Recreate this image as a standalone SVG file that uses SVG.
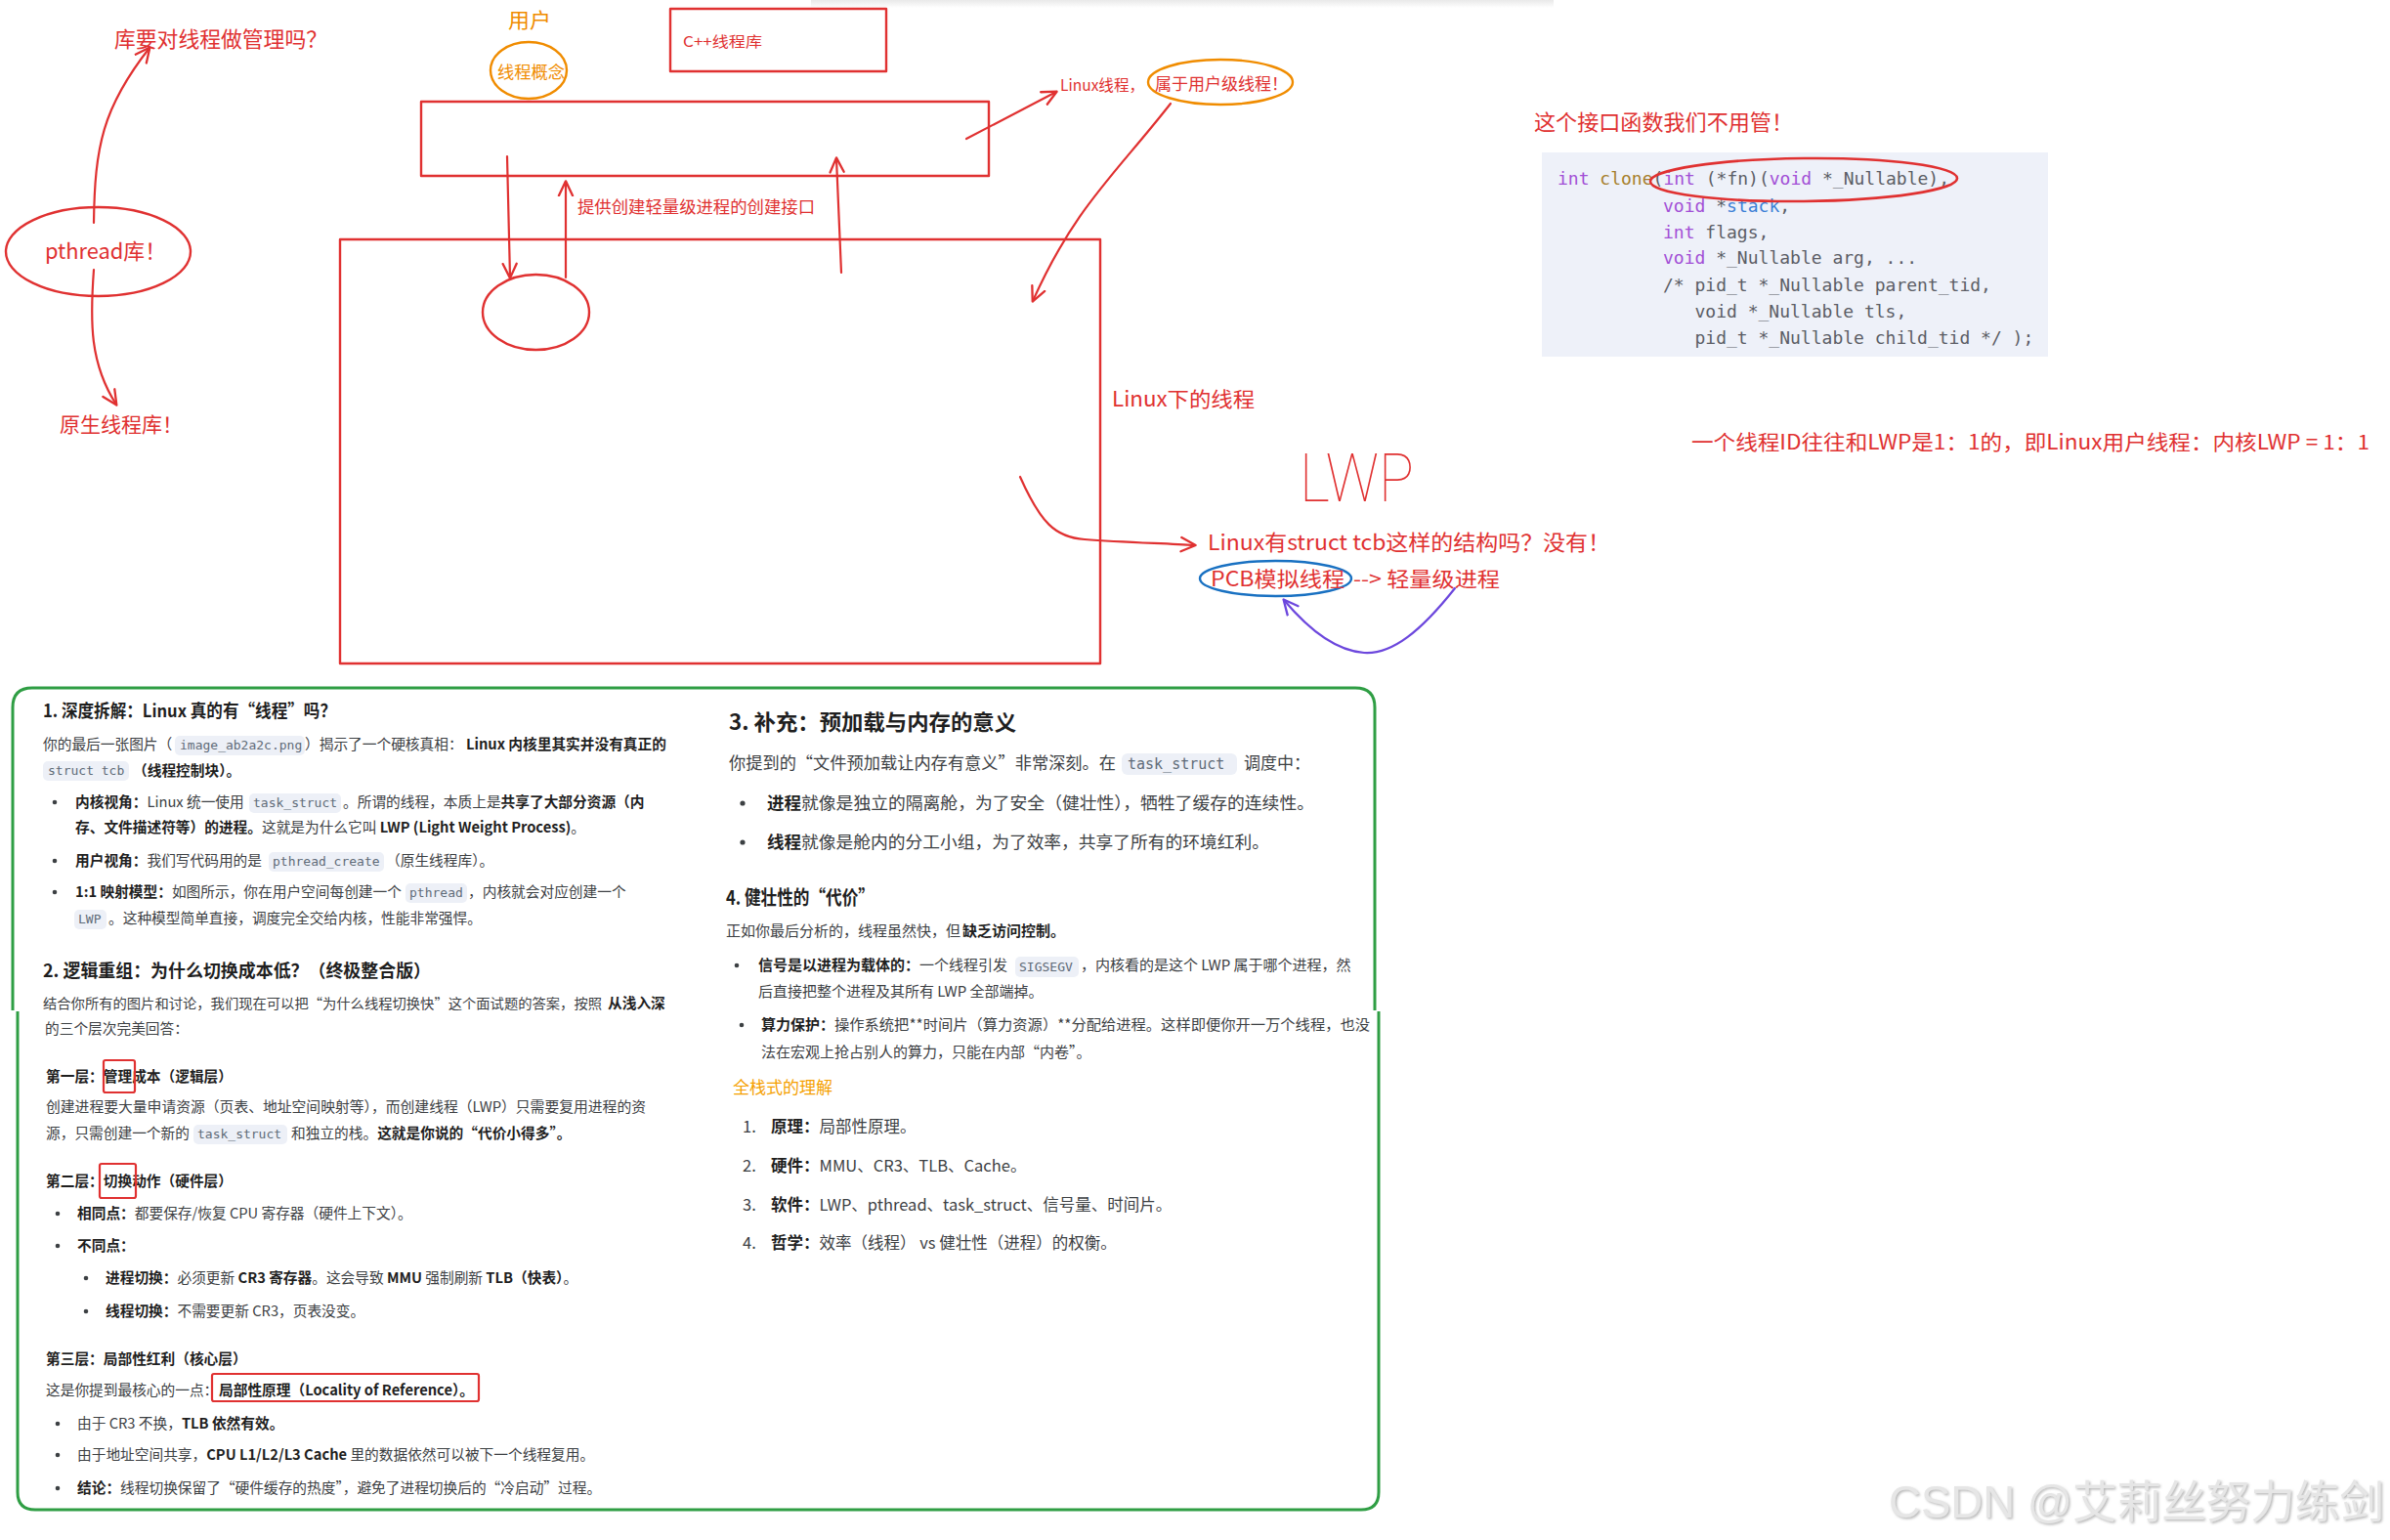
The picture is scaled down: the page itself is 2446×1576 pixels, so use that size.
<svg xmlns="http://www.w3.org/2000/svg" width="2446" height="1576" viewBox="0 0 2446 1576">
<defs>
<style>
.hw{font-family:"Noto Sans CJK SC","Noto Sans",sans-serif;fill:#e03131;}
.or{fill:#f08c00;}
.rs{fill:none;stroke:#e03131;stroke-width:2.4;stroke-linecap:round;stroke-linejoin:round;}
.t{font-family:"Noto Sans CJK SC","Noto Sans",sans-serif;fill:#3c4043;}
.l{font-size:14.7px;}
.b{font-weight:700;fill:#1f1f1f;}
.m{font-family:"DejaVu Sans Mono","Liberation Mono",monospace;fill:#5f6b78;}
.cb{fill:#edf0f7;}
.dot{fill:#3c4043;}
.code{font-family:"DejaVu Sans Mono","Liberation Mono",monospace;font-size:18px;fill:#5c5e66;}
.kw{fill:#a24fd6;}
.fn{fill:#a67f2c;}
.id{fill:#3b7fd6;}
.hl{fill:none;stroke:#e03131;stroke-width:2.2;}
</style>
<marker id="ar" viewBox="0 0 14 14" refX="12" refY="7" markerWidth="18" markerHeight="18" markerUnits="userSpaceOnUse" orient="auto">
<path d="M1,1.5 L12.5,7 L1,12.5" fill="none" stroke="#e03131" stroke-width="1.8" stroke-linecap="round" stroke-linejoin="round"/>
</marker>
<marker id="ap" viewBox="0 0 14 14" refX="12" refY="7" markerWidth="18" markerHeight="18" markerUnits="userSpaceOnUse" orient="auto">
<path d="M1,1.5 L12.5,7 L1,12.5" fill="none" stroke="#6c47dd" stroke-width="1.8" stroke-linecap="round" stroke-linejoin="round"/>
</marker>
<linearGradient id="topsh" x1="0" y1="0" x2="0" y2="1">
<stop offset="0" stop-color="#e9e9e9"/>
<stop offset="1" stop-color="#ffffff"/>
</linearGradient>
<filter id="wm" x="-5%" y="-20%" width="110%" height="140%">
<feDropShadow dx="1.5" dy="1.5" stdDeviation="0.8" flood-color="#9a9a9a" flood-opacity="0.7"/>
</filter>
</defs>
<rect width="2446" height="1576" fill="#ffffff"/>
<rect x="830" y="0" width="760" height="8" fill="url(#topsh)"/>

<g id="n-question">
<text class="hw" x="117" y="48" font-size="22" textLength="218" lengthAdjust="spacingAndGlyphs">库要对线程做管理吗？</text>
</g>
<g id="n-pthread">
<ellipse cx="100.5" cy="257.5" rx="94.5" ry="45.5" class="rs"/>
<text class="hw" x="46" y="265" font-size="22" textLength="124" lengthAdjust="spacingAndGlyphs">pthread库！</text>
</g>
<g id="n-native">
<text class="hw" x="61" y="442" font-size="21" textLength="126" lengthAdjust="spacingAndGlyphs">原生线程库！</text>
</g>

<g id="n-user">
<text class="hw or" x="520" y="28" font-size="21" textLength="44" lengthAdjust="spacingAndGlyphs">用户</text>
</g>
<g id="n-concept">
<ellipse cx="541" cy="72" rx="39" ry="29" fill="none" stroke="#f08c00" stroke-width="2.4"/>
<text class="hw or" x="509" y="80" font-size="17" textLength="69" lengthAdjust="spacingAndGlyphs">线程概念</text>
</g>
<g id="n-cpp">
<rect x="686" y="9" width="221" height="64" class="rs"/>
<text class="hw" x="699" y="48" font-size="15" textLength="81" lengthAdjust="spacingAndGlyphs">C++线程库</text>
</g>
<g id="n-userbox">
<rect x="431" y="104" width="581" height="76" class="rs"/>
</g>
<g id="n-kernelbox">
<rect x="348" y="245" width="778" height="434" class="rs"/>
</g>
<g id="n-lwpcircle">
<ellipse cx="548.5" cy="319.5" rx="54.5" ry="38.5" class="rs"/>
</g>
<g id="n-iface">
<text class="hw" x="591" y="218" font-size="17" textLength="243" lengthAdjust="spacingAndGlyphs">提供创建轻量级进程的创建接口</text>
</g>
<g id="n-linuxthread">
<text class="hw" x="1085" y="93" font-size="16" textLength="86" lengthAdjust="spacingAndGlyphs">Linux线程，</text>
<ellipse cx="1249" cy="84" rx="74" ry="23" fill="none" stroke="#f08c00" stroke-width="2.4"/>
<text class="hw" x="1182" y="92" font-size="17" textLength="136" lengthAdjust="spacingAndGlyphs">属于用户级线程！</text>
</g>
<g id="n-underlinux">
<text class="hw" x="1138" y="416" font-size="21" textLength="146" lengthAdjust="spacingAndGlyphs">Linux下的线程</text>
</g>
<g id="n-lwp">
<text x="1330" y="513" font-family="Roboto,'DejaVu Sans',sans-serif" font-weight="100" font-size="68" fill="#e03131" textLength="117" lengthAdjust="spacingAndGlyphs">LWP</text>
</g>
<g id="n-tcb">
<text class="hw" x="1236" y="563" font-size="22" textLength="412" lengthAdjust="spacingAndGlyphs">Linux有struct tcb这样的结构吗？没有！</text>
</g>
<g id="n-pcb">
<ellipse cx="1305.5" cy="592" rx="77.5" ry="18" fill="none" stroke="#1971c2" stroke-width="2.4"/>
<text class="hw" x="1239" y="600" font-size="21" textLength="137" lengthAdjust="spacingAndGlyphs">PCB模拟线程</text>
<text class="hw" x="1385" y="600" font-size="21" textLength="150" lengthAdjust="spacingAndGlyphs">--&gt; 轻量级进程</text>
</g>
<g id="n-ratio">
<text class="hw" x="1731" y="460" font-size="21" textLength="694" lengthAdjust="spacingAndGlyphs">一个线程ID往往和LWP是1：1的，即Linux用户线程：内核LWP = 1：1</text>
</g>

<g id="n-clonenote">
<text class="hw" x="1570" y="133" font-size="22" textLength="265" lengthAdjust="spacingAndGlyphs">这个接口函数我们不用管！</text>
</g>
<g id="n-code">
<rect x="1578" y="156" width="518" height="209" fill="#eef1f9"/>
<text class="code" x="1594" y="189"><tspan class="kw">int</tspan> <tspan class="fn">clone</tspan>(<tspan class="kw">int</tspan> (*fn)(<tspan class="kw">void</tspan> *_Nullable),</text>
<text class="code" x="1702" y="217"><tspan class="kw">void</tspan> *<tspan class="id">stack</tspan>,</text>
<text class="code" x="1702" y="244"><tspan class="kw">int</tspan> flags,</text>
<text class="code" x="1702" y="270"><tspan class="kw">void</tspan> *_Nullable arg, ...</text>
<text class="code" x="1702" y="298">/* pid_t *_Nullable parent_tid,</text>
<text class="code" x="1734.5" y="325">void *_Nullable tls,</text>
<text class="code" x="1734.5" y="352">pid_t *_Nullable child_tid */ );</text>
<ellipse cx="1846" cy="184" rx="157" ry="22" fill="none" stroke="#e03131" stroke-width="2.6" transform="rotate(-0.6 1846 184)"/>
</g>

<g id="connectors" fill="none" stroke-linecap="round" stroke-linejoin="round">
<path d="M96,228 C97,150 105,110 153,49" stroke="#e03131" stroke-width="2.2" marker-end="url(#ar)"/>
<path d="M96,276 C92,330 92,372 119,414" stroke="#e03131" stroke-width="2.2" marker-end="url(#ar)"/>
<path d="M519,160 L522,284" stroke="#e03131" stroke-width="2.2" marker-end="url(#ar)"/>
<path d="M579,284 L579,186" stroke="#e03131" stroke-width="2.2" marker-end="url(#ar)"/>
<path d="M861,279 L856,162" stroke="#e03131" stroke-width="2.2" marker-end="url(#ar)"/>
<path d="M989,142 L1081,94" stroke="#e03131" stroke-width="2.2" marker-end="url(#ar)"/>
<path d="M1198,106 C1140,180 1100,212 1057,308" stroke="#e03131" stroke-width="2.2" marker-end="url(#ar)"/>
<path d="M1044,488 C1065,535 1080,550 1110,552 C1150,555 1190,556 1223,558" stroke="#e03131" stroke-width="2.2" marker-end="url(#ar)"/>
<path d="M1489,602 C1455,645 1425,670 1396,668 C1368,666 1340,645 1314,614" stroke="#6c47dd" stroke-width="2.2" marker-end="url(#ap)"/>
</g>

<g id="n-panel">
<path d="M13,1034 L13,724 Q13,704 33,704 L1387,704 Q1407,704 1407,724 L1407,1034" fill="none" stroke="#2f9e44" stroke-width="3"/>
<path d="M18,1035 L18,1527 Q18,1545 36,1545 L1393,1545 Q1411,1545 1411,1527 L1411,1035" fill="none" stroke="#2f9e44" stroke-width="3"/>
</g>

<g id="n-left">
<text class="t b" x="44" y="734" font-size="18" textLength="300" lengthAdjust="spacingAndGlyphs">1. 深度拆解：Linux 真的有“线程”吗？</text>

<text class="t l" y="767"><tspan x="44">你的最后一张图片（</tspan><tspan x="312">）揭示了一个硬核真相：</tspan><tspan x="477" class="b">Linux 内核里其实并没有真正的</tspan></text>
<rect class="cb" x="179" y="753" width="133" height="20" rx="5"/>
<text class="m" x="184" y="767" font-size="13">image_ab2a2c.png</text>

<rect class="cb" x="44" y="779" width="88" height="20" rx="5"/>
<text class="m" x="49" y="793" font-size="13">struct tcb</text>
<text class="t l b" x="136" y="794">（线程控制块）。</text>

<circle class="dot" cx="56" cy="821" r="2.3"/>
<text class="t l" y="826"><tspan x="77" class="b">内核视角：</tspan><tspan>Linux 统一使用 </tspan><tspan x="351">。所谓的线程，本质上是</tspan><tspan class="b">共享了大部分资源（内</tspan></text>
<rect class="cb" x="255" y="812" width="94" height="20" rx="5"/>
<text class="m" x="259" y="826" font-size="13">task_struct</text>
<text class="t l" y="852"><tspan x="77" class="b">存、文件描述符等）的进程。</tspan><tspan>这就是为什么它叫 </tspan><tspan class="b">LWP (Light Weight Process)</tspan><tspan>。</tspan></text>

<circle class="dot" cx="56" cy="881" r="2.3"/>
<text class="t l" y="886"><tspan x="77" class="b">用户视角：</tspan><tspan>我们写代码用的是 </tspan><tspan x="395">（原生线程库）。</tspan></text>
<rect class="cb" x="275" y="872" width="118" height="20" rx="5"/>
<text class="m" x="279" y="886" font-size="13">pthread_create</text>

<circle class="dot" cx="56" cy="913" r="2.3"/>
<text class="t l" y="918"><tspan x="77" class="b">1:1 映射模型：</tspan><tspan>如图所示，你在用户空间每创建一个 </tspan><tspan x="479">，内核就会对应创建一个</tspan></text>
<rect class="cb" x="415" y="904" width="63" height="20" rx="5"/>
<text class="m" x="419" y="918" font-size="13">pthread</text>
<rect class="cb" x="76" y="931" width="33" height="20" rx="5"/>
<text class="m" x="80" y="945" font-size="13">LWP</text>
<text class="t l" x="111" y="945">。这种模型简单直接，调度完全交给内核，性能非常强悍。</text>

<text class="t b" x="44" y="1000" font-size="18" textLength="397" lengthAdjust="spacingAndGlyphs">2. 逻辑重组：为什么切换成本低？（终极整合版）</text>
<text class="t" x="44" y="1032" font-size="13.6" textLength="572" lengthAdjust="spacingAndGlyphs">结合你所有的图片和讨论，我们现在可以把“为什么线程切换快”这个面试题的答案，按照</text>
<text class="t l b" x="622" y="1032">从浅入深</text>
<text class="t l" x="46" y="1058">的三个层次完美回答：</text>

<text class="t l b" x="47" y="1107">第一层：管理成本（逻辑层）</text>
<rect class="hl" x="106" y="1085" width="32" height="33" rx="2"/>
<text class="t l" x="47" y="1138" textLength="614" lengthAdjust="spacingAndGlyphs">创建进程要大量申请资源（页表、地址空间映射等），而创建线程（LWP）只需要复用进程的资</text>
<text class="t l" y="1165"><tspan x="47">源，只需创建一个新的 </tspan><tspan x="298">和独立的栈。</tspan><tspan class="b">这就是你说的“代价小得多”。</tspan></text>
<rect class="cb" x="198" y="1151" width="96" height="20" rx="5"/>
<text class="m" x="202" y="1165" font-size="13">task_struct</text>

<text class="t l b" x="47" y="1214">第二层：切换动作（硬件层）</text>
<rect class="hl" x="102" y="1191" width="37" height="35" rx="2"/>
<circle class="dot" cx="59" cy="1242" r="2.3"/>
<text class="t l" y="1247"><tspan x="79" class="b">相同点：</tspan><tspan>都要保存/恢复 CPU 寄存器（硬件上下文）。</tspan></text>
<circle class="dot" cx="59" cy="1275" r="2.3"/>
<text class="t l b" x="79" y="1280">不同点：</text>
<circle class="dot" cx="88" cy="1308" r="2.3"/>
<text class="t l" y="1313"><tspan x="108" class="b">进程切换：</tspan><tspan>必须更新 </tspan><tspan class="b">CR3 寄存器</tspan><tspan>。这会导致 </tspan><tspan class="b">MMU</tspan><tspan> 强制刷新 </tspan><tspan class="b">TLB（快表）</tspan><tspan>。</tspan></text>
<circle class="dot" cx="88" cy="1342" r="2.3"/>
<text class="t l" y="1347"><tspan x="108" class="b">线程切换：</tspan><tspan>不需要更新 CR3，页表没变。</tspan></text>

<text class="t l b" x="47" y="1396">第三层：局部性红利（核心层）</text>
<text class="t l" y="1428"><tspan x="47">这是你提到最核心的一点：</tspan><tspan x="224" class="b">局部性原理（Locality of Reference）。</tspan></text>
<rect class="hl" x="217" y="1406" width="273" height="28" rx="2"/>
<circle class="dot" cx="59" cy="1457" r="2.3"/>
<text class="t l" y="1462"><tspan x="79">由于 CR3 不换，</tspan><tspan class="b">TLB 依然有效。</tspan></text>
<circle class="dot" cx="59" cy="1489" r="2.3"/>
<text class="t l" y="1494"><tspan x="79">由于地址空间共享，</tspan><tspan class="b">CPU L1/L2/L3 Cache</tspan><tspan> 里的数据依然可以被下一个线程复用。</tspan></text>
<circle class="dot" cx="59" cy="1523" r="2.3"/>
<text class="t l" y="1528"><tspan x="79" class="b">结论：</tspan><tspan>线程切换保留了“硬件缓存的热度”，避免了进程切换后的“冷启动”过程。</tspan></text>
</g>

<g id="n-right">
<text class="t b" x="746" y="747" font-size="22" textLength="294" lengthAdjust="spacingAndGlyphs">3. 补充：预加载与内存的意义</text>
<text class="t" x="746" y="787" font-size="17" textLength="396" lengthAdjust="spacingAndGlyphs">你提到的“文件预加载让内存有意义”非常深刻。在</text>
<rect class="cb" x="1148" y="771" width="118" height="22" rx="6"/>
<text class="m" x="1154" y="787" font-size="15">task_struct</text>
<text class="t" x="1273" y="787" font-size="17">调度中：</text>

<circle class="dot" cx="760" cy="822" r="2.6"/>
<text class="t b" x="785" y="828" font-size="17.5">进程</text>
<text class="t" x="820" y="828" font-size="17.5" textLength="525" lengthAdjust="spacingAndGlyphs">就像是独立的隔离舱，为了安全（健壮性），牺牲了缓存的连续性。</text>
<circle class="dot" cx="760" cy="862" r="2.6"/>
<text class="t b" x="785" y="868" font-size="17.5">线程</text>
<text class="t" x="820" y="868" font-size="17.5" textLength="479" lengthAdjust="spacingAndGlyphs">就像是舱内的分工小组，为了效率，共享了所有的环境红利。</text>

<text class="t b" x="743" y="926" font-size="20" textLength="152" lengthAdjust="spacingAndGlyphs">4. 健壮性的“代价”</text>
<text class="t" x="743" y="958" font-size="15" textLength="240" lengthAdjust="spacingAndGlyphs">正如你最后分析的，线程虽然快，但</text>
<text class="t b" x="985" y="958" font-size="15">缺乏访问控制。</text>

<circle class="dot" cx="754" cy="988" r="2.3"/>
<text class="t" y="993" font-size="15"><tspan x="776" class="b">信号是以进程为载体的：</tspan><tspan>一个线程引发 </tspan><tspan x="1106">，内核看的是这个 LWP 属于哪个进程，然</tspan></text>
<rect class="cb" x="1039" y="979" width="65" height="21" rx="5"/>
<text class="m" x="1043" y="994" font-size="13">SIGSEGV</text>
<text class="t" x="776" y="1020" font-size="15">后直接把整个进程及其所有 LWP 全部端掉。</text>

<circle class="dot" cx="759" cy="1049" r="2.3"/>
<text class="t b" x="779" y="1054" font-size="15">算力保护：</text>
<text class="t" x="854" y="1054" font-size="15" textLength="548" lengthAdjust="spacingAndGlyphs">操作系统把**时间片（算力资源）**分配给进程。这样即便你开一万个线程，也没</text>
<text class="t" x="779" y="1082" font-size="15">法在宏观上抢占别人的算力，只能在内部“内卷”。</text>

<text class="t" x="750" y="1119" font-size="17" style="fill:#f59f00">全栈式的理解</text>

<text class="t" x="760" y="1159" font-size="16.5">1.</text>
<text class="t" x="789" y="1159" font-size="16.5"><tspan class="b">原理：</tspan>局部性原理。</text>
<text class="t" x="760" y="1199" font-size="16.5">2.</text>
<text class="t" x="789" y="1199" font-size="16.5"><tspan class="b">硬件：</tspan>MMU、CR3、TLB、Cache。</text>
<text class="t" x="760" y="1239" font-size="16.5">3.</text>
<text class="t" x="789" y="1239" font-size="16.5"><tspan class="b">软件：</tspan>LWP、pthread、task_struct、信号量、时间片。</text>
<text class="t" x="760" y="1278" font-size="16.5">4.</text>
<text class="t" x="789" y="1278" font-size="16.5"><tspan class="b">哲学：</tspan>效率（线程） vs 健壮性（进程）的权衡。</text>
</g>

<g id="watermark">
<text x="1933" y="1553" font-family="'Liberation Sans','Noto Sans CJK SC',sans-serif" font-size="46" fill="#e6e6e6" filter="url(#wm)" textLength="507" lengthAdjust="spacingAndGlyphs">CSDN @艾莉丝努力练剑</text>
</g>
</svg>
